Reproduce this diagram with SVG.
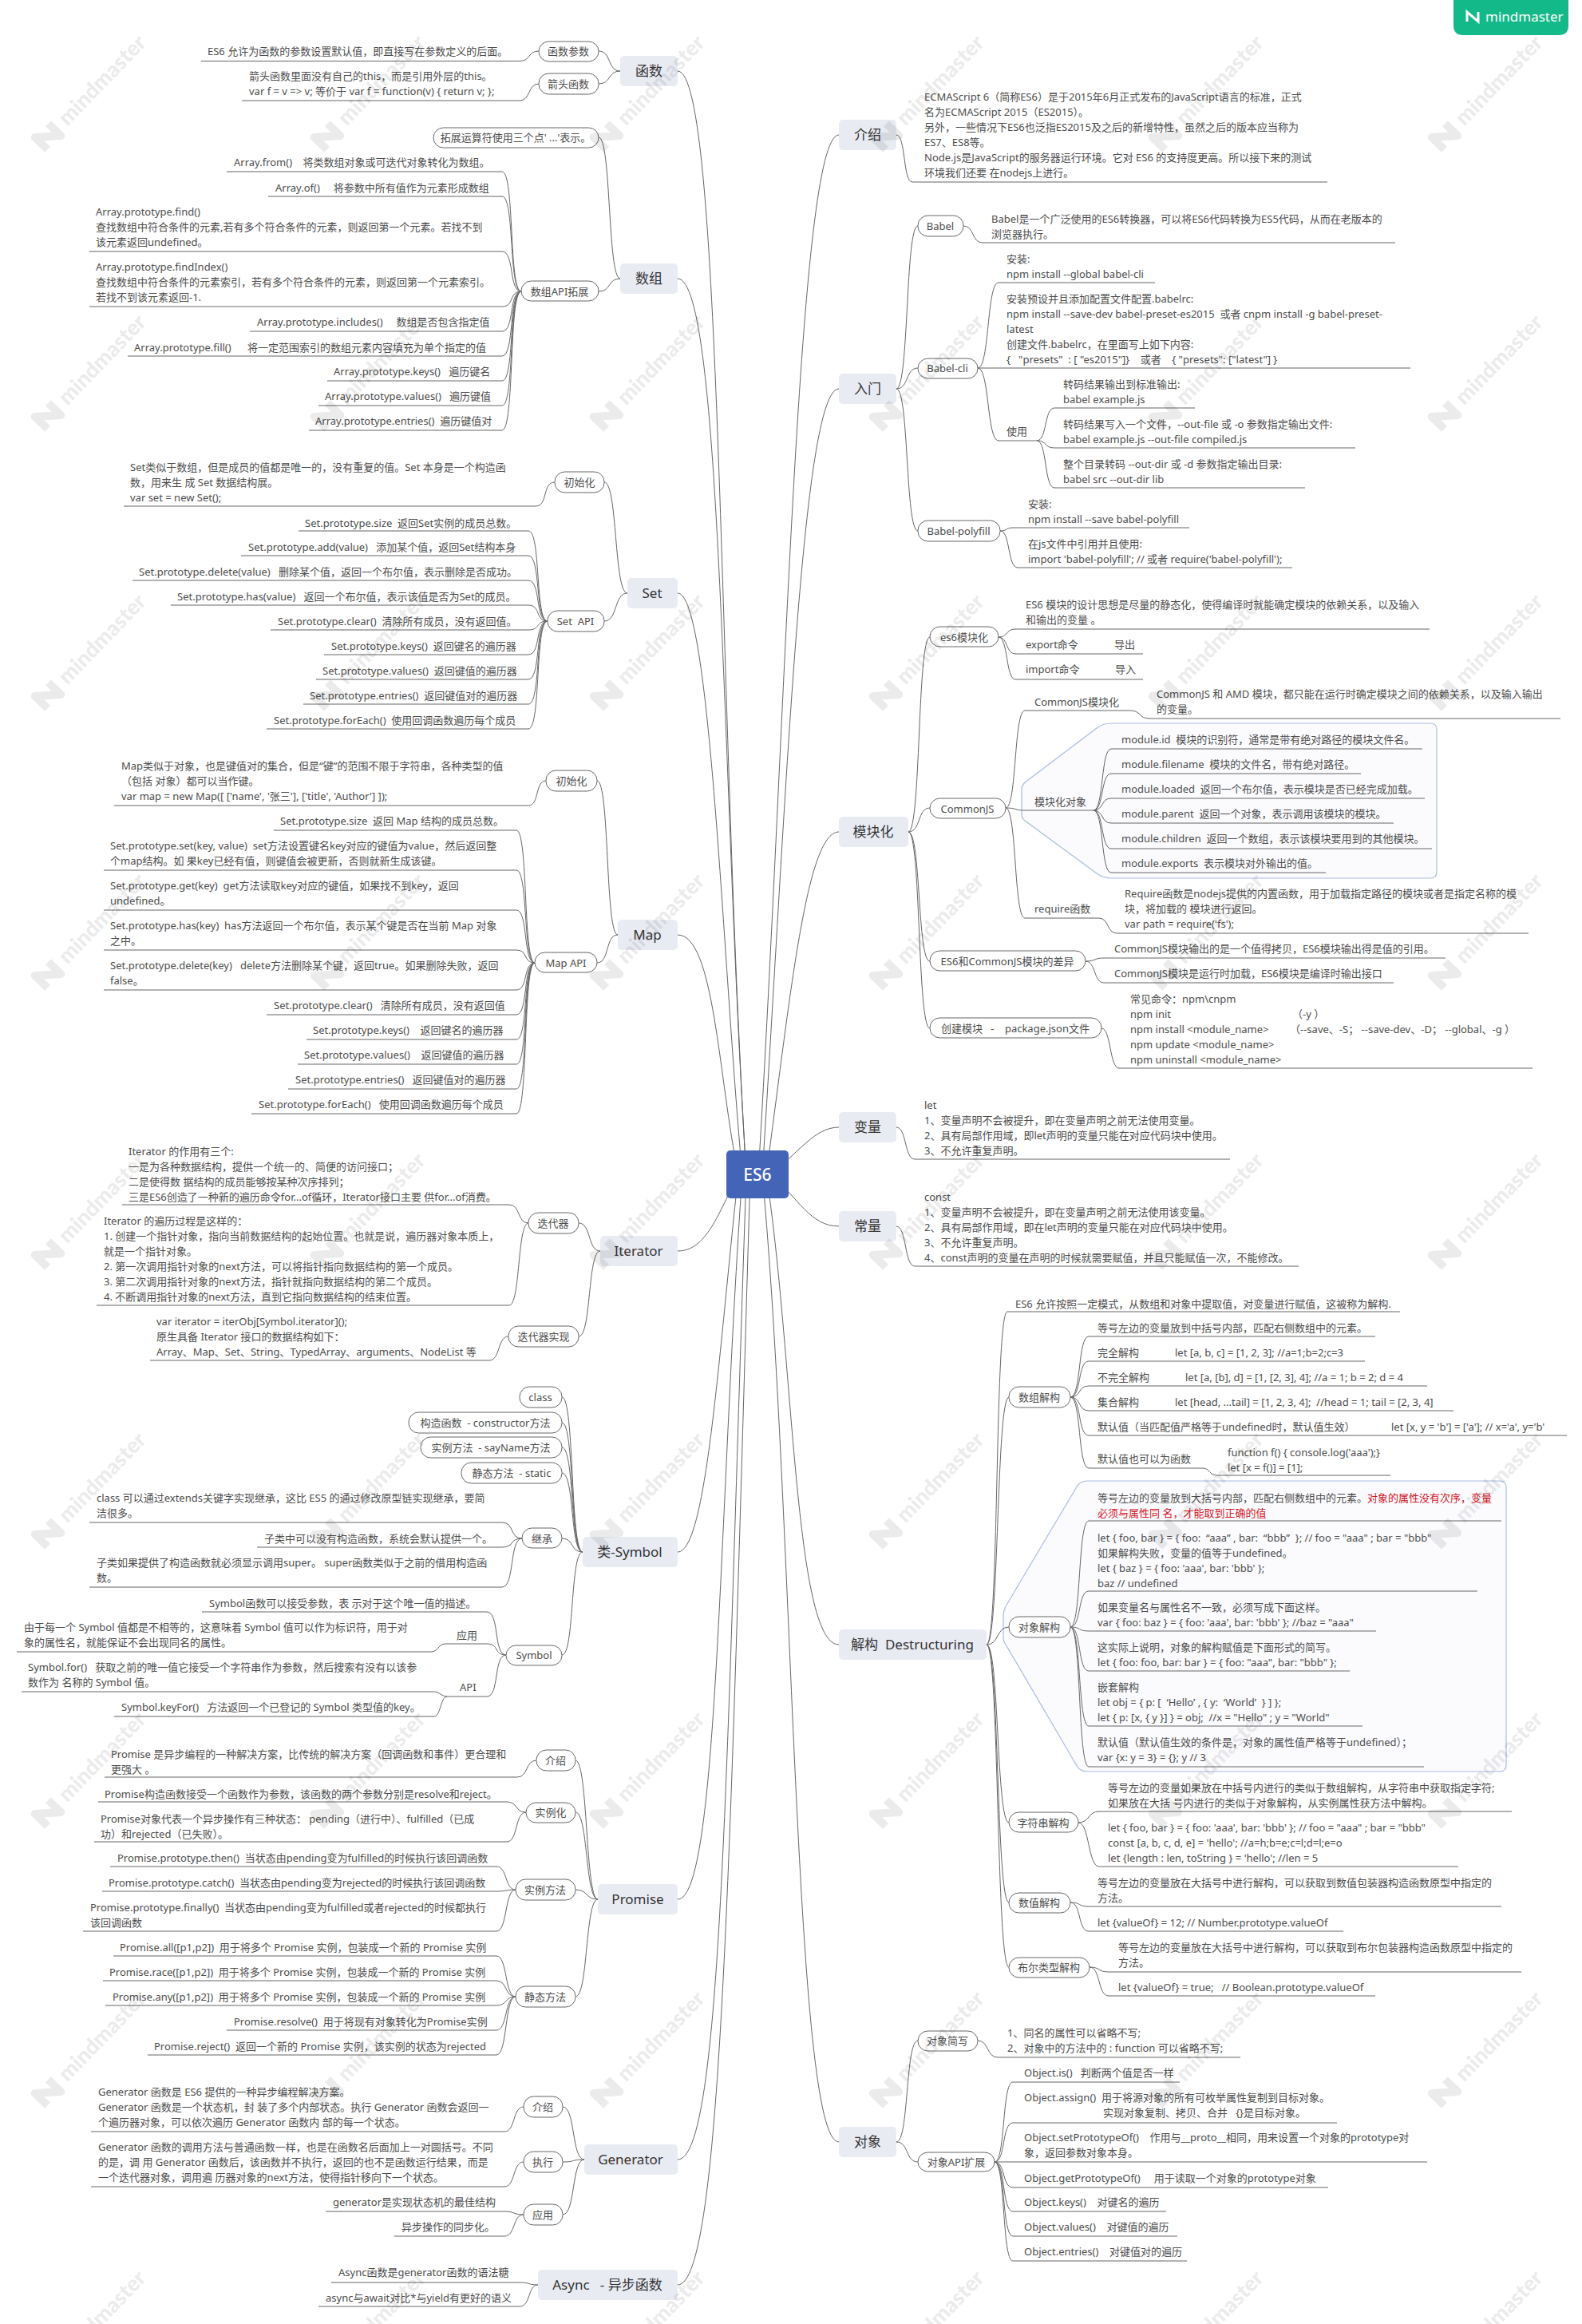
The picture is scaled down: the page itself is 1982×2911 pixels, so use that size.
<svg xmlns="http://www.w3.org/2000/svg" xmlns:xlink="http://www.w3.org/1999/xlink" width="1982" height="2911" viewBox="0 0 1982 2911">
<style>
text{font-family:"Noto Sans","Noto Sans CJK SC",sans-serif;white-space:pre}
.t{font-size:13px;fill:#4d4d4d}
.r{fill:#d4141e}
.s{font-size:13px;fill:#4d4d4d;text-anchor:middle}
.m{font-size:17px;fill:#333;text-anchor:middle}
.p{fill:#fff;stroke:#666;stroke-width:1;rx:12.5px}
.b{fill:#e9ebf3;rx:5px}
#connectors path{fill:none;stroke:#666;stroke-width:1}
.call{fill:#fbfbfe;stroke:#a9bbe6;stroke-width:1.2;stroke-linejoin:round}
.wt{font-family:Lato,"Open Sans",sans-serif;font-size:27px;font-weight:900;fill:#000}
</style>
<defs>
<g id="wm" opacity=".075">
<g transform="rotate(-46)"><path d="M-12 11V-11L12 11V-11" fill="none" stroke="#000" stroke-width="10" stroke-linejoin="round"/><text class="wt" x="26" y="9">mindmaster</text></g>
</g>
<g id="wr">
<use xlink:href="#wm" x="60"/><use xlink:href="#wm" x="410"/><use xlink:href="#wm" x="760"/><use xlink:href="#wm" x="1110"/><use xlink:href="#wm" x="1460"/><use xlink:href="#wm" x="1810"/>
</g>
</defs>
<rect width="1982" height="2911" fill="#fff"/>
<g id="callouts">
<path class="call" d="M1392 906H1792Q1800 906 1800 914V1092Q1800 1100 1792 1100H1392Q1382 1100 1374 1094L1284 1028Q1280 1025 1280 1020V988Q1280 984 1284 980L1374 912Q1382 906 1392 906Z"/>
<path class="call" d="M1362 1855H1879Q1887 1855 1887 1863V2211Q1887 2219 1879 2219H1362Q1352 2219 1348 2210L1260 2060Q1257 2056 1257 2050V2024Q1257 2018 1260 2012L1348 1864Q1352 1855 1362 1855Z"/>
</g>
<g id="connectors">
<path d="M849 89C905 89 900 900 935 1471"/>
<path d="M849 349C905 349 905 1000 935 1471"/>
<path d="M849 743C890 743 905 1200 930 1471"/>
<path d="M849 1171C895 1171 900 1350 925 1471"/>
<path d="M849 1567C885 1567 900 1520 925 1471"/>
<path d="M849 1944C885 1944 900 1700 925 1471"/>
<path d="M849 2379C900 2379 900 1900 930 1471"/>
<path d="M849 2705C905 2705 910 2200 935 1471"/>
<path d="M849 2862C905 2862 915 2300 940 1471"/>
<path d="M1051 169C1000 169 985 900 950 1471"/>
<path d="M1051 487C1005 487 985 1000 955 1471"/>
<path d="M1051 1042C1010 1042 990 1250 960 1471"/>
<path d="M1051 1412C1020 1412 1000 1445 965 1471"/>
<path d="M1051 1536C1015 1536 1000 1500 965 1471"/>
<path d="M1051 2060C995 2060 995 1700 960 1471"/>
<path d="M1051 2683C995 2683 995 1900 955 1471"/>
<path d="M777 89c-16 0-11-25-27-25M777 89c-16 0-11 16-27 16"/>
<path d="M252 76.5H651c14 0 10-12.5 24-12.5M303 126H651c14 0 10-21 24-21"/>
<path d="M777 349c-16 0-11-177-27-177M777 349c-16 0-11 16-27 16"/>
<path d="M284 215H629c16 0 8 150 24 150M336 246H629c16 0 8 119 24 119M112 315H629c16 0 8 50 24 50M112 384H629c16 0 8-19 24-19M313 415H629c16 0 8-50 24-50M160 446H629c16 0 8-81 24-81M410 477H629c16 0 8-112 24-112M399 508H629c16 0 8-143 24-143M387 539H629c16 0 8-174 24-174"/>
<path d="M786 743c-17 0-12-139-29-139M786 743c-17 0-12 35-29 35M155 634H671c16 0 8-30 24-30"/>
<path d="M374 665H662c16 0 8 113 24 113M302 696H662c16 0 8 82 24 82M166 727H662c16 0 8 51 24 51M214 758H662c16 0 8 20 24 20M339 789H662c16 0 8-11 24-11M406 820H662c16 0 8-42 24-42M396 851H662c16 0 8-73 24-73M380 882H662c16 0 8-104 24-104M334 913H662c16 0 8-135 24-135"/>
<path d="M774 1171c-16 0-10-193-26-193M774 1171c-16 0-10 35-26 35M143 1009H662c14 0 8-31 22-31"/>
<path d="M343 1040H647c15 0 8 166 23 166M130 1090H647c15 0 8 116 23 116M130 1140H647c15 0 8 66 23 66M130 1190H647c15 0 8 16 23 16M130 1240H647c15 0 8-34 23-34M334 1271H647c15 0 8-65 23-65M384 1302H647c15 0 8-96 23-96M373 1333H647c15 0 8-127 23-127M361 1364H647c15 0 8-158 23-158M315 1395H647c15 0 8-189 23-189"/>
<path d="M752 1567c-16 0-11-35-27-35M752 1567c-16 0-11 107-27 107M153 1509H638c14 0 10 23 24 23M121 1635H638c14 0 10-103 24-103M188 1704H613c14 0 10-30 24-30"/>
<path d="M730 1944c-16 0-10-194-26-194M730 1944c-16 0-10-162-26-162M730 1944c-16 0-10-131-26-131M730 1944c-16 0-10-99-26-99M730 1944c-16 0-10-17-26-17M730 1944c-16 0-10 129-26 129"/>
<path d="M112 1907H629c16 0 9 20 25 20M322 1938H629c16 0 9-11 25-11M112 1988H629c16 0 9-61 25-61"/>
<path d="M253 2019H610c16 0 8 54 24 54M21 2069H540c9 0 9-10 18-10H610c16 0 8 14 24 14M560 2125H610c16 0 8-52 24-52M27 2119H544c6 0 10 6 16 6M143 2150H544c8 0 8-25 16-25"/>
<path d="M749 2379c-16 0-12-174-28-174M749 2379c-16 0-12-109-28-109M749 2379c-16 0-12-12-28-12M749 2379c-16 0-12 122-28 122"/>
<path d="M131 2226H648c14 0 10-21 24-21M123 2257H635c14 0 10 13 24 13M118 2307H635c14 0 10-37 24-37"/>
<path d="M138 2338H622c14 0 10 29 24 29M128 2369H622c14 0 10-2 24-2M104 2419H622c14 0 10-52 24-52"/>
<path d="M142 2450H622c14 0 10 51 24 51M129 2481H622c14 0 10 20 24 20M132 2512H622c14 0 10-11 24-11M284 2543H622c14 0 10-42 24-42M185 2574H622c14 0 10-73 24-73"/>
<path d="M732 2705c-16 0-11-66-27-66M732 2705c-16 0-11 3-27 3M732 2705c-16 0-11 69-27 69"/>
<path d="M114 2670H632c14 0 10-31 24-31M114 2739H632c14 0 10-31 24-31M408 2770H632c14 0 10 4 24 4M494 2801H632c14 0 10-27 24-27"/>
<path d="M415 2859H651c14 0 10 3 23 3M399 2889H651c14 0 10-27 23-27"/>
<path d="M1123 169c12 0 8 59 20 59H1663"/>
<path d="M1123 487c16 0 11-204 27-204M1123 487c16 0 11-26 27-26M1123 487c16 0 11 178 27 178"/>
<path d="M1207 283c14 0 10 21 24 21H1748M1225 461c15 0 11-107 26-107H1447M1225 461H1767M1225 461c15 0 11 91 26 91H1299"/>
<path d="M1299 552c13 0 9-41 22-41H1497M1299 552c13 0 9 9 22 9H1698M1299 552c13 0 9 59 22 59H1635"/>
<path d="M1253 665c10 0 6-4 16-4H1490M1253 665c13 0 9 46 22 46H1619"/>
<path d="M1138 1042c16 0 11-244 27-244M1138 1042c16 0 11-30 27-30M1138 1042c16 0 11 162 27 162M1138 1042c16 0 11 246 27 246"/>
<path d="M1251 798c12 0 9-10 21-10H1791M1251 798c12 0 9 21 21 21H1432M1251 798c12 0 9 53 21 53H1432"/>
<path d="M1260 1012c14 0 10-122 24-122H1416c14 0 10 10 24 10H1955M1260 1012c14 0 10 3 24 3H1370M1260 1012c14 0 10 138 24 138H1377c12 0 10 19 22 19H1915"/>
<path d="M1370 1015c13 0 9-77 22-77H1782M1370 1015c13 0 9-46 22-46H1705M1370 1015c13 0 9-15 22-15H1785M1370 1015c13 0 9 16 22 16H1746M1370 1015c13 0 9 48 22 48H1794M1370 1015c13 0 9 78 22 78H1661"/>
<path d="M1360 1204c13 0 10-4 23-4H1811M1360 1204c13 0 10 27 23 27H1746M1380 1288c12 0 10 50 22 50H1920"/>
<path d="M1123 1412c13 0 10 40 23 40H1541M1123 1536c13 0 10 50 23 50H1627"/>
<path d="M1236 2060c16 0 10-417 26-417H1754M1236 2060c16 0 12-310 28-310M1236 2060c16 0 12-22 28-22M1236 2060c16 0 12 223 28 223M1236 2060c16 0 12 323 28 323M1236 2060c16 0 12 404 28 404"/>
<path d="M1341 1750c14 0 9-76 23-76H1723M1341 1750c14 0 9-45 23-45H1710M1341 1750c14 0 9-14 23-14H1788M1341 1750c14 0 9 17 23 17H1821M1341 1750c14 0 9 48 23 48H1963M1341 1750c14 0 9 89 23 89H1506c11 0 8 9 19 9H1742"/>
<path d="M1341 2038c14 0 9-133 23-133H1881M1341 2038c14 0 9-45 23-45H1851M1341 2038c14 0 9 5 23 5H1724M1341 2038c14 0 9 55 23 55H1691M1341 2038c14 0 9 124 23 124H1707M1341 2038c14 0 9 175 23 175H1784"/>
<path d="M1351 2283c14 0 12-14 26-14H1894M1351 2283c14 0 12 55 26 55H1827M1341 2383c14 0 9 5 23 5H1881M1341 2383c14 0 9 36 23 36H1683M1365 2464c14 0 10 6 24 6H1906M1365 2464c14 0 10 36 24 36H1723"/>
<path d="M1123 2683c16 0 11-127 27-127M1123 2683c16 0 11 25 27 25M1225 2556c14 0 11 21 25 21H1554"/>
<path d="M1246 2708c14 0 9-100 23-100H1478M1246 2708c14 0 9-49 23-49H1675M1246 2708H1788M1246 2708c14 0 9 32 23 32H1664M1246 2708c14 0 9 62 23 62H1461M1246 2708c14 0 9 93 23 93H1475M1246 2708c14 0 9 124 23 124H1487"/>
</g>
<g id="center"><rect x="910" y="1441" width="78" height="60" rx="5" fill="#4464b8"/><text x="949" y="1479" text-anchor="middle" font-size="21" font-weight="500" fill="#fff">ES6</text></g>
<g id="badge"><path d="M1821 0H1965V32Q1965 44 1953 44H1833Q1821 44 1821 32Z" fill="#14b98a"/><path d="M1838 27V15L1852 27V15" fill="none" stroke="#fff" stroke-width="3"/><text x="1861" y="27" font-size="17" fill="#fff">mindmaster</text></g>

<g id="n-func"><rect class="b" x="777" y="70" width="72" height="38"/><text class="m" x="813" y="95">函数</text></g>
<g id="n-func-param"><rect class="p" x="675" y="52" width="75" height="25"/><text class="s" x="712" y="69">函数参数</text><text class="t" x="260" y="69">ES6 允许为函数的参数设置默认值，即直接写在参数定义的后面。</text></g>
<g id="n-func-arrow"><rect class="p" x="675" y="92" width="75" height="26"/><text class="s" x="712" y="110">箭头函数</text><text class="t" x="312" y="100">箭头函数里面没有自己的this，而是引用外层的this。<tspan x="312" dy="19">var f = v =&gt; v; 等价于 var f = function(v) { return v; };</tspan></text></g>

<g id="n-array"><rect class="b" x="777" y="330" width="72" height="38"/><text class="m" x="813" y="355">数组</text></g>
<g id="n-array-spread"><rect class="p" x="543" y="160" width="207" height="25"/><text class="s" x="646" y="177">拓展运算符使用三个点' ...'表示。</text></g>
<g id="n-array-api"><rect class="p" x="653" y="352" width="97" height="25"/><text class="s" x="701" y="370">数组API拓展</text>
<text class="t" x="293" y="208">Array.from()    将类数组对象或可迭代对象转化为数组。</text>
<text class="t" x="345" y="240">Array.of()     将参数中所有值作为元素形成数组</text>
<text class="t" x="120" y="270">Array.prototype.find()<tspan x="120" dy="19">查找数组中符合条件的元素,若有多个符合条件的元素，则返回第一个元素。若找不到</tspan><tspan x="120" dy="19">该元素返回undefined。</tspan></text>
<text class="t" x="120" y="339">Array.prototype.findIndex()<tspan x="120" dy="19">查找数组中符合条件的元素索引，若有多个符合条件的元素，则返回第一个元素索引。</tspan><tspan x="120" dy="19">若找不到该元素返回-1.</tspan></text>
<text class="t" x="322" y="408">Array.prototype.includes()     数组是否包含指定值</text>
<text class="t" x="168" y="440">Array.prototype.fill()      将一定范围索引的数组元素内容填充为单个指定的值</text>
<text class="t" x="418" y="470">Array.prototype.keys()   遍历键名</text>
<text class="t" x="407" y="501">Array.prototype.values()   遍历键值</text>
<text class="t" x="395" y="532">Array.prototype.entries()  遍历键值对</text></g>

<g id="n-set"><rect class="b" x="786" y="724" width="63" height="38"/><text class="m" x="817" y="749">Set</text></g>
<g id="n-set-init"><rect class="p" x="695" y="591" width="62" height="26"/><text class="s" x="726" y="609">初始化</text><text class="t" x="163" y="590">Set类似于数组，但是成员的值都是唯一的，没有重复的值。Set 本身是一个构造函<tspan x="163" dy="19">数，用来生 成 Set 数据结构展。</tspan><tspan x="163" dy="19">var set = new Set();</tspan></text></g>
<g id="n-set-api"><rect class="p" x="686" y="765" width="71" height="26"/><text class="s" x="721" y="783">Set  API</text>
<text class="t" x="382" y="660">Set.prototype.size  返回Set实例的成员总数。</text>
<text class="t" x="311" y="690">Set.prototype.add(value)   添加某个值，返回Set结构本身</text>
<text class="t" x="174" y="721">Set.prototype.delete(value)   删除某个值，返回一个布尔值，表示删除是否成功。</text>
<text class="t" x="222" y="752">Set.prototype.has(value)   返回一个布尔值，表示该值是否为Set的成员。</text>
<text class="t" x="348" y="783">Set.prototype.clear()  清除所有成员，没有返回值。</text>
<text class="t" x="415" y="814">Set.prototype.keys()  返回键名的遍历器</text>
<text class="t" x="404" y="845">Set.prototype.values()  返回键值的遍历器</text>
<text class="t" x="388" y="876">Set.prototype.entries()  返回键值对的遍历器</text>
<text class="t" x="343" y="907">Set.prototype.forEach()  使用回调函数遍历每个成员</text></g>

<g id="n-map"><rect class="b" x="774" y="1152" width="75" height="38"/><text class="m" x="811" y="1177">Map</text></g>
<g id="n-map-init"><rect class="p" x="684" y="965" width="64" height="26"/><text class="s" x="716" y="983">初始化</text><text class="t" x="152" y="964">Map类似于对象，也是键值对的集合，但是“键”的范围不限于字符串，各种类型的值<tspan x="152" dy="19">（包括 对象）都可以当作键。</tspan><tspan x="152" dy="19">var map = new Map([ ['name', '张三'], ['title', 'Author'] ]);</tspan></text></g>
<g id="n-map-api"><rect class="p" x="670" y="1193" width="78" height="25"/><text class="s" x="709" y="1211">Map API</text>
<text class="t" x="351" y="1033">Set.prototype.size  返回 Map 结构的成员总数。</text>
<text class="t" x="138" y="1064">Set.prototype.set(key, value)  set方法设置键名key对应的键值为value，然后返回整<tspan x="138" dy="19">个map结构。如 果key已经有值，则键值会被更新，否则就新生成该键。</tspan></text>
<text class="t" x="138" y="1114">Set.prototype.get(key)  get方法读取key对应的键值，如果找不到key，返回<tspan x="138" dy="19">undefined。</tspan></text>
<text class="t" x="138" y="1164">Set.prototype.has(key)  has方法返回一个布尔值，表示某个键是否在当前 Map 对象<tspan x="138" dy="19">之中。</tspan></text>
<text class="t" x="138" y="1214">Set.prototype.delete(key)   delete方法删除某个键，返回true。如果删除失败，返回<tspan x="138" dy="19">false。</tspan></text>
<text class="t" x="343" y="1264">Set.prototype.clear()   清除所有成员，没有返回值</text>
<text class="t" x="392" y="1295">Set.prototype.keys()    返回键名的遍历器</text>
<text class="t" x="381" y="1326">Set.prototype.values()    返回键值的遍历器</text>
<text class="t" x="370" y="1357">Set.prototype.entries()   返回键值对的遍历器</text>
<text class="t" x="324" y="1388">Set.prototype.forEach()   使用回调函数遍历每个成员</text></g>

<g id="n-iter"><rect class="b" x="752" y="1548" width="97" height="38"/><text class="m" x="800" y="1573">Iterator</text></g>
<g id="n-iter-a"><rect class="p" x="662" y="1519" width="63" height="26"/><text class="s" x="693" y="1537">迭代器</text>
<text class="t" x="161" y="1447">Iterator 的作用有三个:<tspan x="161" dy="19">一是为各种数据结构，提供一个统一的、简便的访问接口；</tspan><tspan x="161" dy="19">二是使得数 据结构的成员能够按某种次序排列；</tspan><tspan x="161" dy="19">三是ES6创造了一种新的遍历命令for...of循环，Iterator接口主要 供for...of消费。</tspan></text>
<text class="t" x="130" y="1534">Iterator 的遍历过程是这样的：<tspan x="130" dy="19">1. 创建一个指针对象，指向当前数据结构的起始位置。也就是说，遍历器对象本质上，</tspan><tspan x="130" dy="19">就是一个指针对象。</tspan><tspan x="130" dy="19">2. 第一次调用指针对象的next方法，可以将指针指向数据结构的第一个成员。</tspan><tspan x="130" dy="19">3. 第二次调用指针对象的next方法，指针就指向数据结构的第二个成员。</tspan><tspan x="130" dy="19">4. 不断调用指针对象的next方法，直到它指向数据结构的结束位置。</tspan></text></g>
<g id="n-iter-b"><rect class="p" x="637" y="1661" width="88" height="26"/><text class="s" x="681" y="1679">迭代器实现</text><text class="t" x="196" y="1660">var iterator = iterObj[Symbol.iterator]();<tspan x="196" dy="19">原生具备 Iterator 接口的数据结构如下：</tspan><tspan x="196" dy="19">Array、Map、Set、String、TypedArray、arguments、NodeList 等</tspan></text></g>

<g id="n-class"><rect class="b" x="730" y="1925" width="119" height="38"/><text class="m" x="789" y="1950">类-Symbol</text></g>
<g id="n-class-a"><rect class="p" x="651" y="1737" width="53" height="26"/><text class="s" x="677" y="1755">class</text></g>
<g id="n-class-b"><rect class="p" x="512" y="1769" width="192" height="26"/><text class="s" x="608" y="1787">构造函数  - constructor方法</text></g>
<g id="n-class-c"><rect class="p" x="527" y="1800" width="177" height="26"/><text class="s" x="615" y="1818">实例方法  - sayName方法</text></g>
<g id="n-class-d"><rect class="p" x="578" y="1832" width="126" height="26"/><text class="s" x="641" y="1850">静态方法  - static</text></g>
<g id="n-class-e"><rect class="p" x="654" y="1914" width="50" height="25"/><text class="s" x="679" y="1932">继承</text>
<text class="t" x="121" y="1881">class 可以通过extends关键字实现继承，这比 ES5 的通过修改原型链实现继承，要简<tspan x="121" dy="19">洁很多。</tspan></text>
<text class="t" x="331" y="1932">子类中可以没有构造函数，系统会默认提供一个。</text>
<text class="t" x="121" y="1962">子类如果提供了构造函数就必须显示调用super。 super函数类似于之前的借用构造函<tspan x="121" dy="19">数。</tspan></text></g>
<g id="n-symbol"><rect class="p" x="634" y="2061" width="70" height="25"/><text class="s" x="669" y="2078">Symbol</text>
<text class="t" x="262" y="2013">Symbol函数可以接受参数，表 示对于这个唯一值的描述。</text>
<text class="t" x="572" y="2053">应用</text>
<text class="t" x="30" y="2043">由于每一个 Symbol 值都是不相等的，这意味着 Symbol 值可以作为标识符，用于对<tspan x="30" dy="19">象的属性名，就能保证不会出现同名的属性。</tspan></text>
<text class="t" x="576" y="2118">API</text>
<text class="t" x="35" y="2093">Symbol.for()   获取之前的唯一值它接受一个字符串作为参数，然后搜索有没有以该参<tspan x="35" dy="19">数作为 名称的 Symbol 值。</tspan></text>
<text class="t" x="152" y="2143">Symbol.keyFor()   方法返回一个已登记的 Symbol 类型值的key。</text></g>

<g id="n-promise"><rect class="b" x="749" y="2360" width="100" height="38"/><text class="m" x="799" y="2385">Promise</text></g>
<g id="n-promise-a"><rect class="p" x="672" y="2192" width="49" height="26"/><text class="s" x="696" y="2210">介绍</text><text class="t" x="139" y="2202">Promise 是异步编程的一种解决方案，比传统的解决方案（回调函数和事件）更合理和<tspan x="139" dy="19">更强大 。</tspan></text></g>
<g id="n-promise-b"><rect class="p" x="659" y="2258" width="62" height="25"/><text class="s" x="690" y="2275">实例化</text><text class="t" x="131" y="2252">Promise构造函数接受一个函数作为参数，该函数的两个参数分别是resolve和reject。</text><text class="t" x="126" y="2283">Promise对象代表一个异步操作有三种状态： pending（进行中）、fulfilled（已成<tspan x="126" dy="19">功）和rejected（已失败）。</tspan></text></g>
<g id="n-promise-c"><rect class="p" x="646" y="2354" width="75" height="26"/><text class="s" x="683" y="2372">实例方法</text>
<text class="t" x="147" y="2332">Promise.prototype.then()  当状态由pending变为fulfilled的时候执行该回调函数</text>
<text class="t" x="136" y="2363">Promise.prototype.catch()  当状态由pending变为rejected的时候执行该回调函数</text>
<text class="t" x="113" y="2394">Promise.prototype.finally()  当状态由pending变为fulfilled或者rejected的时候都执行<tspan x="113" dy="19">该回调函数</tspan></text></g>
<g id="n-promise-d"><rect class="p" x="646" y="2488" width="75" height="26"/><text class="s" x="683" y="2506">静态方法</text>
<text class="t" x="150" y="2444">Promise.all([p1,p2])  用于将多个 Promise 实例，包装成一个新的 Promise 实例</text>
<text class="t" x="137" y="2475">Promise.race([p1,p2])  用于将多个 Promise 实例，包装成一个新的 Promise 实例</text>
<text class="t" x="141" y="2506">Promise.any([p1,p2])  用于将多个 Promise 实例，包装成一个新的 Promise 实例</text>
<text class="t" x="293" y="2537">Promise.resolve()  用于将现有对象转化为Promise实例</text>
<text class="t" x="193" y="2568">Promise.reject()  返回一个新的 Promise 实例，该实例的状态为rejected</text></g>

<g id="n-gen"><rect class="b" x="732" y="2686" width="117" height="38"/><text class="m" x="790" y="2711">Generator</text></g>
<g id="n-gen-a"><rect class="p" x="656" y="2626" width="49" height="26"/><text class="s" x="680" y="2644">介绍</text><text class="t" x="123" y="2625">Generator 函数是 ES6 提供的一种异步编程解决方案。<tspan x="123" dy="19">Generator 函数是一个状态机，封 装了多个内部状态。执行 Generator 函数会返回一</tspan><tspan x="123" dy="19">个遍历器对象，可以依次遍历 Generator 函数内 部的每一个状态。</tspan></text></g>
<g id="n-gen-b"><rect class="p" x="656" y="2695" width="49" height="26"/><text class="s" x="680" y="2713">执行</text><text class="t" x="123" y="2694">Generator 函数的调用方法与普通函数一样，也是在函数名后面加上一对圆括号。不同<tspan x="123" dy="19">的是，调 用 Generator 函数后，该函数并不执行，返回的也不是函数运行结果，而是</tspan><tspan x="123" dy="19">一个迭代器对象，调用遍 历器对象的next方法，使得指针移向下一个状态。</tspan></text></g>
<g id="n-gen-c"><rect class="p" x="656" y="2761" width="49" height="26"/><text class="s" x="680" y="2779">应用</text><text class="t" x="417" y="2763">generator是实现状态机的最佳结构</text><text class="t" x="503" y="2794">异步操作的同步化。</text></g>

<g id="n-async"><rect class="b" x="674" y="2843" width="175" height="38"/><text class="m" x="761" y="2868">Async   - 异步函数</text><text class="t" x="424" y="2851">Async函数是generator函数的语法糖</text><text class="t" x="408" y="2883">async与await对比*与yield有更好的语义</text></g>

<g id="n-intro"><rect class="b" x="1051" y="150" width="72" height="38"/><text class="m" x="1087" y="175">介绍</text><text class="t" x="1158" y="126">ECMAScript 6（简称ES6）是于2015年6月正式发布的JavaScript语言的标准，正式<tspan x="1158" dy="19">名为ECMAScript 2015（ES2015）。</tspan><tspan x="1158" dy="19">另外，一些情况下ES6也泛指ES2015及之后的新增特性，虽然之后的版本应当称为</tspan><tspan x="1158" dy="19">ES7、ES8等。</tspan><tspan x="1158" dy="19">Node.js是JavaScript的服务器运行环境。它对 ES6 的支持度更高。所以接下来的测试</tspan><tspan x="1158" dy="19">环境我们还要 在nodejs上进行。</tspan></text></g>

<g id="n-start"><rect class="b" x="1051" y="468" width="72" height="38"/><text class="m" x="1087" y="493">入门</text></g>
<g id="n-babel"><rect class="p" x="1150" y="270" width="57" height="26"/><text class="s" x="1178" y="288">Babel</text><text class="t" x="1242" y="279">Babel是一个广泛使用的ES6转换器，可以将ES6代码转换为ES5代码，从而在老版本的<tspan x="1242" dy="19">浏览器执行。</tspan></text></g>
<g id="n-babelcli"><rect class="p" x="1150" y="449" width="75" height="25"/><text class="s" x="1187" y="466">Babel-cli</text>
<text class="t" x="1261" y="329">安装:<tspan x="1261" dy="19">npm install --global babel-cli</tspan></text>
<text class="t" x="1261" y="379">安装预设并且添加配置文件配置.babelrc:<tspan x="1261" dy="19">npm install --save-dev babel-preset-es2015  或者 cnpm install -g babel-preset-</tspan><tspan x="1261" dy="19">latest</tspan><tspan x="1261" dy="19">创建文件.babelrc，在里面写上如下内容:</tspan><tspan x="1261" dy="19">{   "presets"  : [ "es2015"]}    或者    { "presets": ["latest"] }</tspan></text>
<text class="t" x="1261" y="545">使用</text>
<text class="t" x="1332" y="486">转码结果输出到标准输出:<tspan x="1332" dy="19">babel example.js</tspan></text>
<text class="t" x="1332" y="536">转码结果写入一个文件，--out-file 或 -o 参数指定输出文件:<tspan x="1332" dy="19">babel example.js --out-file compiled.js</tspan></text>
<text class="t" x="1332" y="586">整个目录转码 --out-dir 或 -d 参数指定输出目录:<tspan x="1332" dy="19">babel src --out-dir lib</tspan></text></g>
<g id="n-polyfill"><rect class="p" x="1150" y="652" width="103" height="26"/><text class="s" x="1201" y="670">Babel-polyfill</text>
<text class="t" x="1288" y="636">安装:<tspan x="1288" dy="19">npm install --save babel-polyfill</tspan></text>
<text class="t" x="1288" y="686">在js文件中引用并且使用:<tspan x="1288" dy="19">import 'babel-polyfill'; // 或者 require('babel-polyfill');</tspan></text></g>

<g id="n-module"><rect class="b" x="1051" y="1023" width="87" height="38"/><text class="m" x="1094" y="1048">模块化</text></g>
<g id="n-es6m"><rect class="p" x="1165" y="785" width="86" height="25"/><text class="s" x="1208" y="803">es6模块化</text>
<text class="t" x="1285" y="762">ES6 模块的设计思想是尽量的静态化，使得编译时就能确定模块的依赖关系，以及输入<tspan x="1285" dy="19">和输出的变量 。</tspan></text>
<text class="t" x="1285" y="812">export命令<tspan x="1396">导出</tspan></text>
<text class="t" x="1285" y="843">import命令<tspan x="1397">导入</tspan></text></g>
<g id="n-cjs"><rect class="p" x="1165" y="1000" width="95" height="25"/><text class="s" x="1212" y="1018">CommonJS</text>
<text class="t" x="1296" y="884">CommonJS模块化</text>
<text class="t" x="1449" y="874">CommonJS 和 AMD 模块，都只能在运行时确定模块之间的依赖关系，以及输入输出<tspan x="1449" dy="19">的变量。</tspan></text>
<text class="t" x="1296" y="1009">模块化对象</text>
<text class="t" x="1405" y="931">module.id  模块的识别符，通常是带有绝对路径的模块文件名。</text>
<text class="t" x="1405" y="962">module.filename  模块的文件名，带有绝对路径。</text>
<text class="t" x="1405" y="993">module.loaded  返回一个布尔值，表示模块是否已经完成加载。</text>
<text class="t" x="1405" y="1024">module.parent  返回一个对象，表示调用该模块的模块。</text>
<text class="t" x="1405" y="1055">module.children  返回一个数组，表示该模块要用到的其他模块。</text>
<text class="t" x="1405" y="1086">module.exports  表示模块对外输出的值。</text>
<text class="t" x="1296" y="1143">require函数</text>
<text class="t" x="1409" y="1124">Require函数是nodejs提供的内置函数，用于加载指定路径的模块或者是指定名称的模<tspan x="1409" dy="19">块，将加载的 模块进行返回。</tspan><tspan x="1409" dy="19">var path = require('fs');</tspan></text></g>
<g id="n-diff"><rect class="p" x="1165" y="1191" width="195" height="25"/><text class="s" x="1262" y="1209">ES6和CommonJS模块的差异</text>
<text class="t" x="1396" y="1193">CommonJS模块输出的是一个值得拷贝，ES6模块输出得是值的引用。</text>
<text class="t" x="1396" y="1224">CommonJS模块是运行时加载，ES6模块是编译时输出接口</text></g>
<g id="n-pkg"><rect class="p" x="1165" y="1275" width="215" height="25"/><text class="s" x="1272" y="1293">创建模块   -    package.json文件</text>
<text class="t" x="1416" y="1256">常见命令：npm\cnpm<tspan x="1416" dy="19">npm init</tspan><tspan x="1619">（-y ）</tspan><tspan x="1416" dy="19">npm install &lt;module_name&gt;</tspan><tspan x="1616">（--save、-S； --save-dev、-D； --global、-g ）</tspan><tspan x="1416" dy="19">npm update &lt;module_name&gt;</tspan><tspan x="1416" dy="19">npm uninstall &lt;module_name&gt;</tspan></text></g>

<g id="n-var"><rect class="b" x="1051" y="1393" width="72" height="38"/><text class="m" x="1087" y="1418">变量</text><text class="t" x="1158" y="1389">let<tspan x="1158" dy="19">1、变量声明不会被提升，即在变量声明之前无法使用变量。</tspan><tspan x="1158" dy="19">2、具有局部作用域，即let声明的变量只能在对应代码块中使用。</tspan><tspan x="1158" dy="19">3、不允许重复声明。</tspan></text></g>
<g id="n-const"><rect class="b" x="1051" y="1517" width="72" height="38"/><text class="m" x="1087" y="1542">常量</text><text class="t" x="1158" y="1504">const<tspan x="1158" dy="19">1、变量声明不会被提升，即在变量声明之前无法使用该变量。</tspan><tspan x="1158" dy="19">2、具有局部作用域，即在let声明的变量只能在对应代码块中使用。</tspan><tspan x="1158" dy="19">3、不允许重复声明。</tspan><tspan x="1158" dy="19">4、const声明的变量在声明的时候就需要赋值，并且只能赋值一次，不能修改。</tspan></text></g>

<g id="n-destr"><rect class="b" x="1051" y="2041" width="185" height="38"/><text class="m" x="1143" y="2066">解构  Destructuring</text><text class="t" x="1272" y="1638">ES6 允许按照一定模式，从数组和对象中提取值，对变量进行赋值，这被称为解构.</text></g>
<g id="n-d-array"><rect class="p" x="1264" y="1737" width="77" height="26"/><text class="s" x="1302" y="1755">数组解构</text>
<text class="t" x="1375" y="1668">等号左边的变量放到中括号内部，匹配右侧数组中的元素。</text>
<text class="t" x="1375" y="1699">完全解构<tspan x="1472">let [a, b, c] = [1, 2, 3]; //a=1;b=2;c=3</tspan></text>
<text class="t" x="1375" y="1730">不完全解构<tspan x="1485">let [a, [b], d] = [1, [2, 3], 4]; //a = 1; b = 2; d = 4</tspan></text>
<text class="t" x="1375" y="1761">集合解构<tspan x="1472">let [head, ...tail] = [1, 2, 3, 4];  //head = 1; tail = [2, 3, 4]</tspan></text>
<text class="t" x="1375" y="1792">默认值（当匹配值严格等于undefined时，默认值生效）<tspan x="1743">let [x, y = 'b'] = ['a']; // x='a', y='b'</tspan></text>
<text class="t" x="1375" y="1832">默认值也可以为函数</text>
<text class="t" x="1538" y="1824">function f() { console.log('aaa');}<tspan x="1538" dy="19">let [x = f()] = [1];</tspan></text></g>
<g id="n-d-obj"><rect class="p" x="1264" y="2025" width="77" height="26"/><text class="s" x="1302" y="2043">对象解构</text>
<text class="t" x="1375" y="1881">等号左边的变量放到大括号内部，匹配右侧数组中的元素。<tspan class="r">对象的属性没有次序，变量</tspan><tspan class="r" x="1375" dy="19">必须与属性同 名，才能取到正确的值</tspan></text>
<text class="t" x="1375" y="1931">let { foo, bar } = { foo:  “aaa” , bar:  “bbb”  }; // foo = "aaa" ; bar = "bbb"<tspan x="1375" dy="19">如果解构失败，变量的值等于undefined。</tspan><tspan x="1375" dy="19">let { baz } = { foo: 'aaa', bar: 'bbb' };</tspan><tspan x="1375" dy="19">baz // undefined</tspan></text>
<text class="t" x="1375" y="2018">如果变量名与属性名不一致，必须写成下面这样。<tspan x="1375" dy="19">var { foo: baz } = { foo: 'aaa', bar: 'bbb' }; //baz = "aaa"</tspan></text>
<text class="t" x="1375" y="2068">这实际上说明，对象的解构赋值是下面形式的简写。<tspan x="1375" dy="19">let { foo: foo, bar: bar } = { foo: "aaa", bar: "bbb" };</tspan></text>
<text class="t" x="1375" y="2118">嵌套解构<tspan x="1375" dy="19">let obj = { p: [  ‘Hello’ , { y:  ‘World’  } ] };</tspan><tspan x="1375" dy="19">let { p: [x, { y }] } = obj;  //x = "Hello" ; y = "World"</tspan></text>
<text class="t" x="1375" y="2187">默认值（默认值生效的条件是，对象的属性值严格等于undefined）；<tspan x="1375" dy="19">var {x: y = 3} = {}; y // 3</tspan></text></g>
<g id="n-d-str"><rect class="p" x="1264" y="2270" width="87" height="25"/><text class="s" x="1307" y="2288">字符串解构</text>
<text class="t" x="1388" y="2244">等号左边的变量如果放在中括号内进行的类似于数组解构，从字符串中获取指定字符;<tspan x="1388" dy="19">如果放在大括 号内进行的类似于对象解构，从实例属性获方法中解构。</tspan></text>
<text class="t" x="1388" y="2294">let { foo, bar } = { foo: 'aaa', bar: 'bbb' }; // foo = "aaa" ; bar = "bbb"<tspan x="1388" dy="19">const [a, b, c, d, e] = 'hello'; //a=h;b=e;c=l;d=l;e=o</tspan><tspan x="1388" dy="19">let {length : len, toString } = 'hello'; //len = 5</tspan></text></g>
<g id="n-d-num"><rect class="p" x="1264" y="2371" width="77" height="25"/><text class="s" x="1302" y="2388">数值解构</text>
<text class="t" x="1375" y="2363">等号左边的变量放在大括号中进行解构，可以获取到数值包装器构造函数原型中指定的<tspan x="1375" dy="19">方法。</tspan></text>
<text class="t" x="1375" y="2413">let {valueOf} = 12; // Number.prototype.valueOf</text></g>
<g id="n-d-bool"><rect class="p" x="1264" y="2452" width="101" height="25"/><text class="s" x="1314" y="2469">布尔类型解构</text>
<text class="t" x="1401" y="2444">等号左边的变量放在大括号中进行解构，可以获取到布尔包装器构造函数原型中指定的<tspan x="1401" dy="19">方法。</tspan></text>
<text class="t" x="1401" y="2494">let {valueOf} = true;   // Boolean.prototype.valueOf</text></g>

<g id="n-object"><rect class="b" x="1051" y="2664" width="72" height="38"/><text class="m" x="1087" y="2689">对象</text></g>
<g id="n-o-short"><rect class="p" x="1150" y="2544" width="75" height="25"/><text class="s" x="1187" y="2561">对象简写</text><text class="t" x="1262" y="2551">1、同名的属性可以省略不写;<tspan x="1262" dy="19">2、对象中的方法中的 : function 可以省略不写;</tspan></text></g>
<g id="n-o-api"><rect class="p" x="1150" y="2696" width="96" height="24"/><text class="s" x="1198" y="2713">对象API扩展</text>
<text class="t" x="1283" y="2601">Object.is()   判断两个值是否一样</text>
<text class="t" x="1283" y="2632">Object.assign()  用于将源对象的所有可枚举属性复制到目标对象。<tspan x="1382" dy="19">实现对象复制、拷贝、合并   {}是目标对象。</tspan></text>
<text class="t" x="1283" y="2682">Object.setPrototypeOf()    作用与__proto__相同，用来设置一个对象的prototype对<tspan x="1283" dy="19">象，返回参数对象本身。</tspan></text>
<text class="t" x="1283" y="2733">Object.getPrototypeOf()     用于读取一个对象的prototype对象</text>
<text class="t" x="1283" y="2763">Object.keys()    对键名的遍历</text>
<text class="t" x="1283" y="2794">Object.values()    对键值的遍历</text>
<text class="t" x="1283" y="2825">Object.entries()    对键值对的遍历</text></g>

<g id="watermarks">
<use xlink:href="#wr" y="171"/><use xlink:href="#wr" y="521"/><use xlink:href="#wr" y="871"/><use xlink:href="#wr" y="1221"/><use xlink:href="#wr" y="1571"/><use xlink:href="#wr" y="1921"/><use xlink:href="#wr" y="2271"/><use xlink:href="#wr" y="2621"/><use xlink:href="#wr" y="2971"/>
</g>
</svg>
